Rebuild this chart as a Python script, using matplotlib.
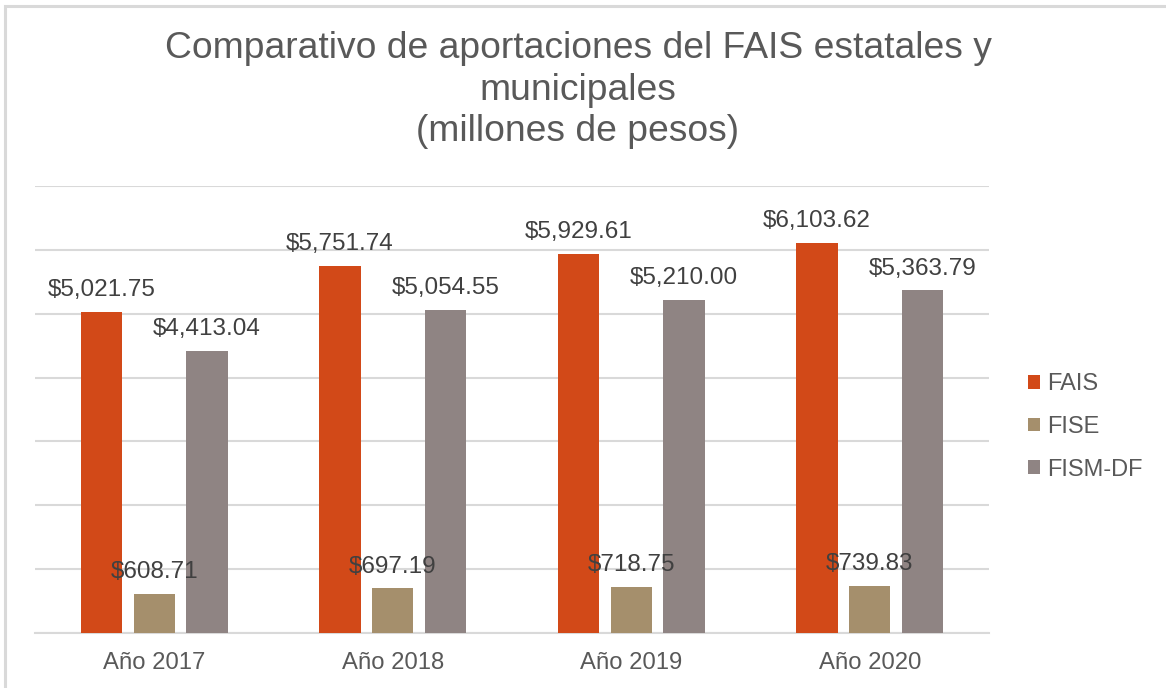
import matplotlib
matplotlib.use("Agg")
import matplotlib.pyplot as plt
from matplotlib.patches import Rectangle
import numpy as np

categories = ["Año 2017", "Año 2018", "Año 2019", "Año 2020"]
series_names = ["FAIS", "FISE", "FISM-DF"]
fais = [5021.75, 5751.74, 5929.61, 6103.62]
fise = [608.71, 697.19, 718.75, 739.83]
fism = [4413.04, 5054.55, 5210.00, 5363.79]
colors = ["#D24918", "#A58F6C", "#8F8483"]

plt.rcParams['font.family'] = ['Liberation Sans', 'DejaVu Sans']

W, H = 1166, 688
fig = plt.figure(figsize=(W / 100, H / 100), dpi=100)
ax = fig.add_axes([35 / W, 1 - 633 / H, (989 - 35) / W, (633 - 186) / H])

x = np.arange(len(categories))
offset = 0.2216
width = 0.174
all_series = [fais, fise, fism]
for i, (vals, name, col) in enumerate(zip(all_series, series_names, colors)):
    bars = ax.bar(x + (i - 1) * offset, vals, width, color=col, label=name, zorder=3)
    for b, v in zip(bars, vals):
        ax.annotate(f"${v:,.2f}", (b.get_x() + b.get_width() / 2, b.get_height()),
                    xytext=(0, 11.5), textcoords="offset points",
                    ha="center", va="baseline", fontsize=17.5, color="#404040", zorder=4)

ax.set_xlim(-0.5, len(categories) - 0.5)
ax.set_ylim(0, 7000)
ax.set_yticks(np.arange(0, 7001, 1000))
ax.yaxis.grid(True, color="#D9D9D9", linewidth=1.5, zorder=0)
ax.set_yticklabels([])
ax.tick_params(axis="y", length=0)
ax.set_xticks(x)
ax.set_xticklabels(categories, fontsize=17.2, color="#595959")
ax.tick_params(axis="x", length=0, pad=14)
for s in ["top", "right", "left"]:
    ax.spines[s].set_visible(False)
ax.spines["bottom"].set_color("#D9D9D9")
ax.spines["bottom"].set_linewidth(1.5)

fig.text(578 / W, 1 - 90 / H,
         "Comparativo de aportaciones del FAIS estatales y\nmunicipales\n(millones de pesos)",
         ha="center", va="center", fontsize=26.8, color="#595959", linespacing=1.225)

leg = ax.legend(loc="upper left", bbox_to_anchor=(1028 / W, 1 - 373 / H),
                bbox_transform=fig.transFigure, frameon=False, fontsize=17,
                handlelength=0.52, handleheight=0.52, handletextpad=0.3,
                labelspacing=0.88, borderpad=0, borderaxespad=0)
for t in leg.get_texts():
    t.set_color("#595959")

# outer chart frame
fig.patches.append(Rectangle((5 / W, -0.5), 2.0, 1 - 6 / H + 0.5,
                             transform=fig.transFigure, fill=False,
                             edgecolor="#D9D9D9", linewidth=2.2))

fig.savefig("out.png", dpi=100)
